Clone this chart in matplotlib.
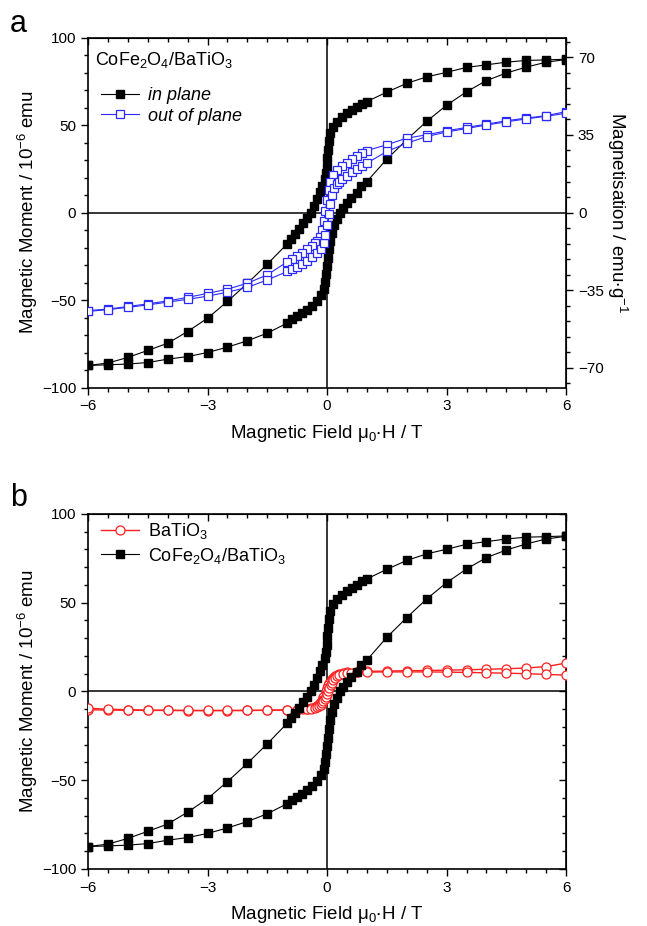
import matplotlib
matplotlib.use("Agg")
import matplotlib.pyplot as plt
from matplotlib.ticker import MultipleLocator

plt.rcParams['font.family'] = ['Liberation Sans', 'DejaVu Sans']
plt.rcParams['mathtext.fontset'] = 'custom'
plt.rcParams['mathtext.rm'] = 'Liberation Sans'
plt.rcParams['mathtext.it'] = 'Liberation Sans:italic'
plt.rcParams['mathtext.default'] = 'regular'

# CoFe2O4/BaTiO3, in plane : descending branch (+6 -> -6)
h_ip_down = [6, 5.5, 5, 4.5, 4, 3.5, 3, 2.5, 2, 1.5, 1, 0.875, 0.75, 0.625, 0.5, 0.375,
             0.25, 0.15, 0.08, 0.04, 0.02, 0.01, 0.0, -0.02, -0.06, -0.12, -0.18, -0.25,
             -0.32, -0.4, -0.5, -0.6, -0.7, -0.8, -0.9, -1, -1.5, -2, -2.5, -3, -3.5,
             -4, -4.5, -5, -5.5, -6]
m_ip_down = [87.6, 87.2, 86.9, 85.9, 84.4, 82.9, 80.1, 77.5, 73.8, 68.8, 63.4, 62.1, 60.2,
             58.3, 56.8, 54.5, 52.0, 49.0, 45.5, 41.0, 36.0, 31.0, 26.0, 22.5, 19.0, 15.0,
             11.5, 7.5, 3.8, 0.0, -3.2, -6.1, -9.3, -12.2, -15.0, -17.9, -29.5, -40.5,
             -50.8, -60.4, -68.0, -74.7, -78.8, -82.8, -86.0, -87.4]
# in plane : ascending branch (-6 -> +6)
h_ip_up = [-6, -5.5, -5, -4.5, -4, -3.5, -3, -2.5, -2, -1.5, -1, -0.875, -0.75, -0.625,
           -0.5, -0.375, -0.25, -0.15, -0.08, -0.04, -0.02, 0.0, 0.02, 0.05, 0.08, 0.12,
           0.18, 0.25, 0.32, 0.4, 0.5, 0.61, 0.74, 0.86, 1, 1.5, 2, 2.5, 3, 3.5, 4, 4.5,
           5, 5.5, 6]
m_ip_up = [-87.4, -87.0, -86.6, -85.7, -83.8, -82.3, -80.0, -76.9, -73.3, -68.9, -63.2,
           -61.0, -59.3, -57.5, -55.6, -53.2, -50.5, -47.0, -43.5, -39.5, -35.0, -30.5,
           -26.0, -21.0, -16.0, -11.5, -7.0, -3.5, 0.0, 2.7, 5.3, 8.2, 11.0, 14.9, 17.7,
           30.5, 41.6, 52.1, 61.3, 69.0, 75.4, 79.7, 83.1, 85.9, 87.4]

# out of plane : descending branch
h_op_down = [6, 5.5, 5, 4.5, 4, 3.5, 3, 2.5, 2, 1.5, 1, 0.875, 0.75, 0.625, 0.5, 0.375,
             0.25, 0.15, 0.08, 0.04, 0.0, -0.04, -0.08, -0.12, -0.18, -0.25, -0.3, -0.375,
             -0.5, -0.625, -0.75, -0.875, -1, -1.5, -2, -2.5, -3, -3.5, -4, -4.5, -5,
             -5.5, -6]
m_op_down = [57.7, 55.3, 54.0, 52.4, 50.5, 48.6, 46.7, 44.4, 42.5, 38.7, 35.4, 34.0, 32.5,
             30.8, 28.5, 26.5, 24.4, 21.5, 17.5, 13.0, 7.0, 1.0, -5.0, -10.0, -14.0,
             -16.5, -17.5, -19.0, -21.0, -23.0, -25.0, -26.8, -28.2, -35.6, -40.4, -43.8,
             -46.2, -48.5, -50.5, -52.2, -53.7, -55.2, -56.0]
# out of plane : ascending branch
h_op_up = [-6, -5.5, -5, -4.5, -4, -3.5, -3, -2.5, -2, -1.5, -1, -0.875, -0.75, -0.625,
           -0.5, -0.375, -0.25, -0.15, -0.08, -0.04, 0.0, 0.04, 0.08, 0.12, 0.18, 0.25,
           0.3, 0.375, 0.5, 0.625, 0.75, 0.875, 1, 1.5, 2, 2.5, 3, 3.5, 4, 4.5, 5, 5.5, 6]
m_op_up = [-56.5, -55.5, -54.2, -52.8, -51.2, -49.6, -47.8, -45.5, -42.8, -38.5, -33.7,
           -32.5, -31.0, -29.3, -27.5, -25.5, -23.3, -20.8, -17.5, -13.0, -7.0, -1.0, 5.0,
           10.0, 14.0, 16.5, 17.5, 19.0, 21.0, 23.0, 25.0, 26.8, 28.2, 34.9, 39.6, 43.4,
           46.0, 48.0, 50.0, 51.8, 53.5, 55.0, 56.7]

# BaTiO3 reference : descending branch
h_bto_down = [6, 5.5, 5, 4.5, 4, 3.5, 3, 2.5, 2, 1.5, 1, 0.75, 0.5, 0.4, 0.3, 0.25, 0.2,
              0.15, 0.12, 0.09, 0.06, 0.03, 0.0, -0.03, -0.06, -0.09, -0.12, -0.15, -0.2,
              -0.25, -0.3, -0.4, -0.5, -0.6, -0.75, -1, -1.5, -2, -2.5, -3, -3.5, -4,
              -4.5, -5, -5.5, -6]
m_bto_down = [16.0, 14.0, 13.2, 12.8, 12.5, 12.2, 12.0, 11.8, 11.7, 11.5, 11.3, 11.0, 10.7,
              10.3, 9.7, 9.2, 8.6, 7.8, 7.0, 6.0, 4.8, 3.4, 1.8, 0.0, -1.8, -3.4, -4.8,
              -5.8, -7.2, -8.2, -8.8, -9.5, -9.8, -10.0, -10.2, -10.4, -10.6, -10.7,
              -10.8, -10.8, -10.8, -10.7, -10.7, -10.6, -10.5, -10.3]
# BaTiO3 reference : ascending branch
h_bto_up = [-6, -5.5, -5, -4.5, -4, -3.5, -3, -2.5, -2, -1.5, -1, -0.75, -0.5, -0.4, -0.3,
            -0.25, -0.2, -0.15, -0.12, -0.09, -0.06, -0.03, 0.0, 0.03, 0.06, 0.09, 0.12,
            0.15, 0.2, 0.25, 0.3, 0.4, 0.5, 0.6, 0.75, 1, 1.5, 2, 2.5, 3, 3.5, 4, 4.5, 5,
            5.5, 6]
m_bto_up = [-9.5, -10.0, -10.3, -10.5, -10.6, -10.7, -10.7, -10.7, -10.7, -10.6, -10.5,
            -10.3, -10.0, -9.7, -9.2, -8.8, -8.2, -7.4, -6.6, -5.6, -4.4, -3.0, -1.4, 0.3,
            2.0, 3.6, 5.0, 6.2, 7.6, 8.5, 9.2, 9.9, 10.2, 10.5, 10.7, 10.9, 11.0, 11.0,
            11.0, 10.9, 10.7, 10.5, 10.3, 10.0, 9.6, 9.2]

x_ticks = [-6, -3, 0, 3, 6]
y_ticks = [-100, -50, 0, 50, 100]
y2_ticks = [-70, -35, 0, 35, 70]
emu_per_g = 0.79   # right axis: emu/g per 10^-6 emu

LAB = 13.5
TICK = 11

fig = plt.figure(figsize=(6.47, 9.26), dpi=100)
ax_a = fig.add_axes([0.136, 0.5815, 0.739, 0.378])
ax_b = fig.add_axes([0.136, 0.0616, 0.739, 0.3834])

sq = dict(marker='s', markersize=6, linewidth=0.8)


def ticks(ax_obj, direction):
    ax_obj.tick_params(which='both', direction=direction, labelsize=TICK)
    ax_obj.tick_params(which='major', length=5, width=1)
    ax_obj.tick_params(which='minor', length=3, width=1)


def style_axis(ax):
    ax.set_xlim(-6, 6)
    ax.set_ylim(-100, 100)
    ax.set_xticks(x_ticks)
    ax.set_yticks(y_ticks)
    ax.xaxis.set_minor_locator(MultipleLocator(0.5))
    ax.yaxis.set_minor_locator(MultipleLocator(10))
    ax.tick_params(which='both', top=False, right=False)
    ticks(ax, 'out')
    # top axis with inward ticks
    sec = ax.secondary_xaxis('top')
    sec.set_xticks(x_ticks)
    sec.xaxis.set_minor_locator(MultipleLocator(0.5))
    ticks(sec, 'in')
    sec.tick_params(labeltop=False)
    for s in ax.spines.values():
        s.set_linewidth(1.2)
    ax.axhline(0, color='black', linewidth=1.1, zorder=1)
    ax.axvline(0, color='black', linewidth=1.1, zorder=1)
    ax.set_xlabel(r'Magnetic Field $\mu_0$$\cdot$H / T', fontsize=LAB, labelpad=7)
    ax.set_ylabel(r'Magnetic Moment / 10$^{-6}$ emu', fontsize=LAB, labelpad=1)


# ---- panel a ----
style_axis(ax_a)
ax_a.plot(h_ip_down, m_ip_down, color='black', mfc='black', zorder=3, **sq)
l_ip, = ax_a.plot(h_ip_up, m_ip_up, color='black', mfc='black', zorder=3, **sq)
ax_a.plot(h_op_down, m_op_down, color='#2a2aff', mfc='white', mew=0.9, zorder=4, **sq)
l_op, = ax_a.plot(h_op_up, m_op_up, color='#2a2aff', mfc='white', mew=0.9, zorder=4, **sq)
ax_a.text(0.015, 0.965, r'CoFe$_2$O$_4$/BaTiO$_3$', transform=ax_a.transAxes,
          fontsize=13, va='top', ha='left')
ax_a.legend([l_ip, l_op], ['in plane', 'out of plane'], loc='upper left',
            bbox_to_anchor=(0.0, 0.895), frameon=False, handlelength=2.1,
            handletextpad=0.55, labelspacing=0.2, borderaxespad=0.3,
            prop={'size': 13, 'style': 'italic'})

ax_r = ax_a.secondary_yaxis('right', functions=(lambda m: m * emu_per_g,
                                                lambda g: g / emu_per_g))
ax_r.set_yticks(y2_ticks)
ax_r.yaxis.set_minor_locator(MultipleLocator(7))
ticks(ax_r, 'out')
ax_r.set_ylabel(r'Magnetisation / emu$\cdot$g$^{-1}$', fontsize=LAB, rotation=270,
                labelpad=18)

# ---- panel b ----
style_axis(ax_b)
rb = ax_b.secondary_yaxis('right')
rb.set_yticks(y_ticks)
rb.yaxis.set_minor_locator(MultipleLocator(10))
ticks(rb, 'in')
rb.tick_params(labelright=False)

l_bto, = ax_b.plot(h_bto_down, m_bto_down, color='#ff2020', marker='o', markersize=6.5,
                   mfc='white', mew=0.9, linewidth=1.0, zorder=3)
ax_b.plot(h_bto_up, m_bto_up, color='#ff2020', marker='o', markersize=6.5,
          mfc='white', mew=0.9, linewidth=1.0, zorder=3)
ax_b.plot(h_ip_down, m_ip_down, color='black', mfc='black', zorder=4, **sq)
l_cfo, = ax_b.plot(h_ip_up, m_ip_up, color='black', mfc='black', zorder=4, **sq)
ax_b.legend([l_bto, l_cfo], [r'BaTiO$_3$', r'CoFe$_2$O$_4$/BaTiO$_3$'], loc='upper left',
            bbox_to_anchor=(0.0, 1.015), frameon=False, handlelength=2.1,
            handletextpad=0.55, labelspacing=0.25, borderaxespad=0.3, prop={'size': 13})

fig.text(0.015, 0.99, 'a', fontsize=22, va='top')
fig.text(0.015, 0.478, 'b', fontsize=22, va='top')

fig.savefig('out.png', dpi=100)
